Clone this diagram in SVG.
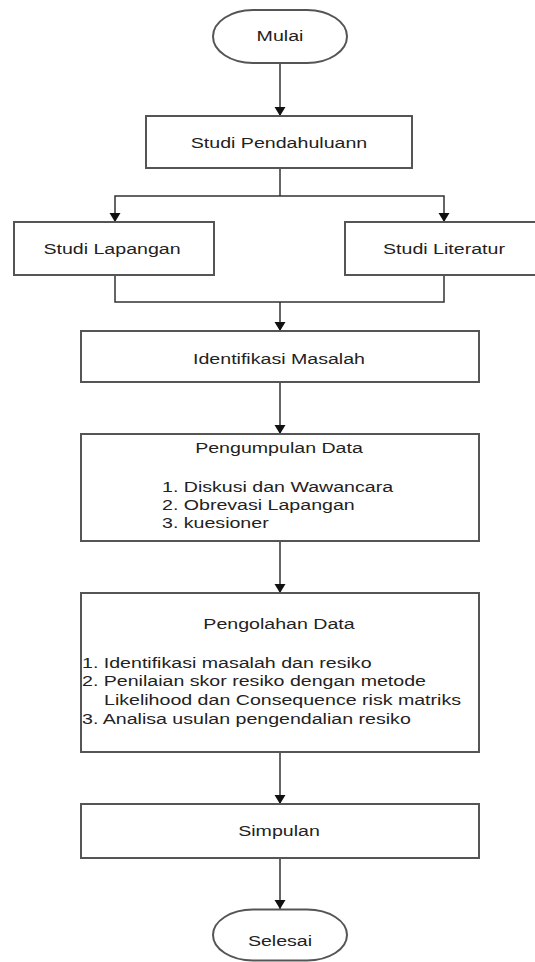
<svg xmlns="http://www.w3.org/2000/svg" width="535" height="962" viewBox="0 0 535 962">
<defs>
<marker id="arr" markerWidth="10" markerHeight="12" refX="9" refY="6" orient="auto" markerUnits="userSpaceOnUse"><path d="M0,0.5 L9,6 L0,11.5 Z" fill="#111"/></marker>
<style>
.box{fill:#fff;stroke:#555;stroke-width:2}
.ln{fill:none;stroke:#333;stroke-width:1.5}
.ar{marker-end:url(#arr)}
text{font-family:"Liberation Sans",Arial,sans-serif;font-size:14px;fill:#222}
.c{text-anchor:middle}
</style>
</defs>
<rect width="535" height="962" fill="#fff"/>
<g id="connectors">
<path class="ln ar" d="M280,63 V116"/>
<path class="ln" d="M280,168 V196"/>
<path class="ln ar" d="M280,196 H115 V222"/>
<path class="ln ar" d="M280,196 H444 V222"/>
<path class="ln" d="M115,275 V302 H444 V275"/>
<path class="ln ar" d="M280,302 V331"/>
<path class="ln ar" d="M280,382 V434"/>
<path class="ln ar" d="M280,541 V593"/>
<path class="ln ar" d="M280,752 V804"/>
<path class="ln ar" d="M280,858 V909"/>
</g>
<g id="mulai">
<rect class="box" x="213" y="10" width="134" height="53" rx="40" ry="26.5"/>
<text class="c" transform="translate(280,40.5) scale(1.4,1)">Mulai</text>
</g>
<g id="studi-pendahuluan">
<rect class="box" x="146" y="116" width="266" height="52"/>
<text class="c" transform="translate(279,147.5) scale(1.4,1)">Studi Pendahuluann</text>
</g>
<g id="studi-lapangan">
<rect class="box" x="14" y="222" width="200" height="53"/>
<text class="c" transform="translate(112,254) scale(1.4,1)">Studi Lapangan</text>
</g>
<g id="studi-literatur">
<rect class="box" x="345" y="222" width="200" height="53"/>
<text class="c" transform="translate(444,254) scale(1.4,1)">Studi Literatur</text>
</g>
<g id="identifikasi-masalah">
<rect class="box" x="81" y="331" width="398" height="51"/>
<text class="c" transform="translate(279,364) scale(1.4,1)">Identifikasi Masalah</text>
</g>
<g id="pengumpulan-data">
<rect class="box" x="81" y="434" width="398" height="107"/>
<text class="c" transform="translate(279,453) scale(1.4,1)">Pengumpulan Data</text>
<text transform="translate(162,492) scale(1.4,1)">1. Diskusi dan Wawancara</text>
<text transform="translate(162,510) scale(1.4,1)">2. Obrevasi Lapangan</text>
<text transform="translate(162,528) scale(1.4,1)">3. kuesioner</text>
</g>
<g id="pengolahan-data">
<rect class="box" x="81" y="593" width="398" height="159"/>
<text class="c" transform="translate(279,628.5) scale(1.4,1)">Pengolahan Data</text>
<text transform="translate(82,667.5) scale(1.4,1)">1. Identifikasi masalah dan resiko</text>
<text transform="translate(82,686) scale(1.4,1)">2. Penilaian skor resiko dengan metode</text>
<text transform="translate(104,705) scale(1.4,1)">Likelihood dan Consequence risk matriks</text>
<text transform="translate(82,724) scale(1.4,1)">3. Analisa usulan pengendalian resiko</text>
</g>
<g id="simpulan">
<rect class="box" x="81" y="804" width="398" height="54"/>
<text class="c" transform="translate(279,836) scale(1.4,1)">Simpulan</text>
</g>
<g id="selesai">
<rect class="box" x="213" y="909.5" width="134" height="51" rx="40" ry="25.5"/>
<text class="c" transform="translate(280,946) scale(1.4,1)">Selesai</text>
</g>
</svg>
